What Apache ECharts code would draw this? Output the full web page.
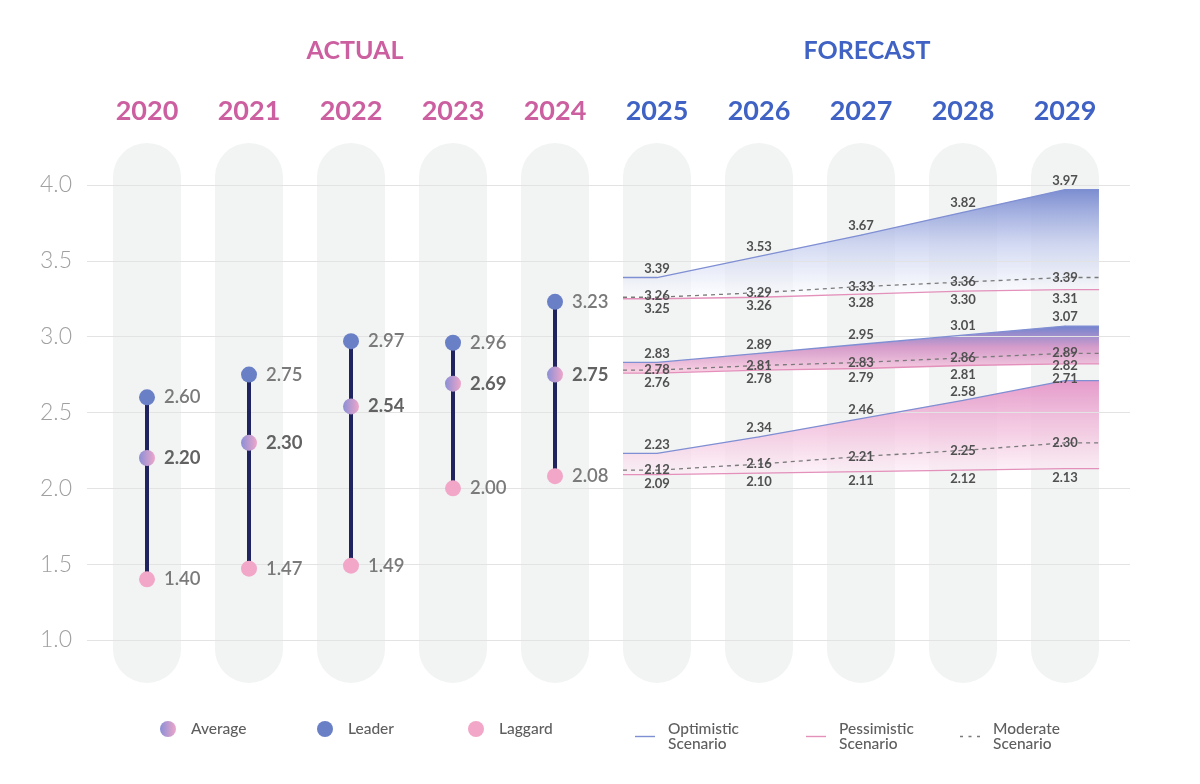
<!DOCTYPE html>
<html>
<head>
<meta charset="utf-8">
<script src="https://cdn.jsdelivr.net/npm/echarts@6/dist/echarts.min.js"></script>
<style>html,body{margin:0;padding:0;background:#fff}#c{width:1200px;height:784px}</style>
</head>
<body>
<div id="c"></div>
<script>
// ---- data ----
const years = ['2020','2021','2022','2023','2024','2025','2026','2027','2028','2029'];
const yTicks = [1.0, 1.5, 2.0, 2.5, 3.0, 3.5, 4.0];
// actual (2020-2024)
const leader  = [2.60, 2.75, 2.97, 2.96, 3.23];
const average = [2.20, 2.30, 2.54, 2.69, 2.75];
const laggard = [1.40, 1.47, 1.49, 2.00, 2.08];
// forecast (2025-2029)
const leaderOpt  = [3.39, 3.53, 3.67, 3.82, 3.97];
const leaderMod  = [3.26, 3.29, 3.33, 3.36, 3.39];
const leaderPes  = [3.25, 3.26, 3.28, 3.30, 3.31];
const avgOpt     = [2.83, 2.89, 2.95, 3.01, 3.07];
const avgMod     = [2.78, 2.81, 2.83, 2.86, 2.89];
const avgPes     = [2.76, 2.78, 2.79, 2.81, 2.82];
const lagOpt     = [2.23, 2.34, 2.46, 2.58, 2.71];
const lagMod     = [2.12, 2.16, 2.21, 2.25, 2.30];
const lagPes     = [2.09, 2.10, 2.11, 2.12, 2.13];

// ---- helpers ----
const NA = years.length - leaderOpt.length; // number of actual years
const EDGE = 0.333;
const G = echarts.graphic.LinearGradient;
const PINK = '#cc5fa0', BLUE = '#3f62c4';
const OPT = '#7f8fd3', PES = '#e390bb', MOD = '#7a7a7a';
const LABEL_H = 14, GAP = 13;
const POS_ORDER = { top: 0, inside: 1, bottom: 2 };

const lineSpecs = [
  { name: 'Optimistic Scenario', vals: leaderOpt, color: OPT, kind: 'opt' },
  { name: 'Optimistic Scenario', vals: avgOpt, color: OPT, kind: 'opt' },
  { name: 'Optimistic Scenario', vals: lagOpt, color: OPT, kind: 'opt' },
  { name: 'Moderate Scenario', vals: leaderMod, color: MOD, kind: 'mod' },
  { name: 'Moderate Scenario', vals: avgMod, color: MOD, kind: 'mod' },
  { name: 'Moderate Scenario', vals: lagMod, color: MOD, kind: 'mod' },
  { name: 'Pessimistic Scenario', vals: leaderPes, color: PES, kind: 'pes' },
  { name: 'Pessimistic Scenario', vals: avgPes, color: PES, kind: 'pes' },
  { name: 'Pessimistic Scenario', vals: lagPes, color: PES, kind: 'pes' }
];
lineSpecs.forEach(s => { s.pos = s.kind === 'mod' ? 'inside' : (s.kind === 'pes' ? 'bottom' : 'top'); s.off = s.vals.map(() => 0); });

function xsFor(vals) { return [NA - EDGE, ...vals.map((v, i) => NA + i), NA + vals.length - 1 + EDGE]; }
function ext(vals) { return [vals[0], ...vals, vals[vals.length - 1]]; }
function fcData(vals, off) {
  const xs = xsFor(vals), ys = ext(vals), n = xs.length;
  return xs.map((x, i) => {
    const edge = (i === 0 || i === n - 1);
    return edge ? { value: [x, ys[i]], symbol: 'none', label: { show: false } }
                : { value: [x, ys[i]], label: { show: true, offset: [0, off ? off[i - 1] : 0] } };
  });
}
function actual(arr) { return years.map((y, i) => i < arr.length ? arr[i] : '-'); }

function lineSeries(s) {
  return { name: s.name, type: 'line', xAxisIndex: 2, yAxisIndex: 1, data: fcData(s.vals, s.off),
    symbol: 'circle', symbolSize: 1, showSymbol: true, smooth: false, z: 4,
    lineStyle: { color: s.color, width: 1.3, type: s.kind === 'mod' ? [4, 4] : 'solid' },
    itemStyle: { color: s.color }, emphasis: { disabled: true },
    label: { show: false, position: s.pos, distance: 2, color: '#505050', fontSize: 13, fontWeight: 'bold',
      fontFamily: 'Lato, sans-serif', formatter: p => p.value[1].toFixed(2) } };
}
function bandSeries(top, bot, stops) {
  const xs = xsFor(top), tt = ext(top), bb = ext(bot);
  const data = xs.map((x, i) => [x, tt[i], bb[i]]);
  return { type: 'custom', xAxisIndex: 2, yAxisIndex: 1, z: 2, silent: true, clip: false,
    data, encode: { x: 0, y: [1, 2] },
    renderItem: (params, api) => {
      if (params.dataIndex !== 0) return null;
      const up = data.map(d => api.coord([d[0], d[1]]));
      const dn = data.map(d => api.coord([d[0], d[2]])).reverse();
      const yT = Math.min(...up.map(p => p[1]));
      const yB = Math.max(...dn.map(p => p[1]));
      return { type: 'polygon', shape: { points: up.concat(dn) },
        style: { fill: new G(0, yT, 0, yB, stops, true) } };
    } };
}

const avgGrad = new G(0, 0, 1, 0, [{ offset: 0, color: '#8a8fd6' }, { offset: 1, color: '#eea6ca' }]);
const dotLabel = (color, weight) => ({ show: true, position: 'right', distance: 9, color, fontSize: 18.5,
  fontWeight: weight, fontFamily: 'Lato, sans-serif', formatter: p => p.value.toFixed(2) });

function buildOption() {
  return {
    animation: false,
    backgroundColor: '#fff',
    title: [
      { text: 'ACTUAL', left: 350, top: 33, textAlign: 'center',
        textStyle: { color: PINK, fontSize: 25, fontWeight: 'bold', fontFamily: 'Lato, sans-serif' } },
      { text: 'FORECAST', left: 862, top: 33, textAlign: 'center',
        textStyle: { color: BLUE, fontSize: 25, fontWeight: 'bold', fontFamily: 'Lato, sans-serif' } }
    ],
    legend: [
      { left: 160, data: [{ name: 'Average', icon: 'circle' }], itemWidth: 16, itemHeight: 16 },
      { left: 317, data: [{ name: 'Leader', icon: 'circle' }], itemWidth: 16, itemHeight: 16 },
      { left: 468, data: [{ name: 'Laggard', icon: 'circle' }], itemWidth: 16, itemHeight: 16 },
      { left: 635, data: [{ name: 'Optimistic Scenario', icon: 'path://M0,0h20v1.4h-20z' }], itemWidth: 20, itemHeight: 14 },
      { left: 806, data: [{ name: 'Pessimistic Scenario', icon: 'path://M0,0h20v1.4h-20z' }], itemWidth: 20, itemHeight: 14 },
      { left: 960, data: [{ name: 'Moderate Scenario', icon: 'path://M0,0h3v1.4h-3zM8.5,0h3v1.4h-3zM17,0h3v1.4h-3z' }], itemWidth: 20, itemHeight: 14 }
    ].map(l => Object.assign({
      top: 721, height: 34, padding: 0, selectedMode: false, orient: 'horizontal',
      formatter: n => n.replace(' ', '\n'),
      textStyle: { color: '#5e5e5e', fontSize: 15.5, lineHeight: 15, fontWeight: 500, fontFamily: 'Lato, sans-serif',
        padding: [0, 0, 0, l.itemWidth === 16 ? 10 : 8] }
    }, l)),
    grid: [
      { left: 87, right: 70, top: 185, bottom: 144 },
      { left: 96, right: 84, top: 185, bottom: 144 }
    ],
    xAxis: [
      { gridIndex: 0, type: 'value', min: 0, max: 1, show: false },
      { gridIndex: 1, type: 'category', data: years, position: 'top',
        axisLine: { show: false }, axisTick: { show: false },
        axisLabel: { margin: 60, interval: 0,
          formatter: (v, i) => (i < NA ? '{a|' : '{f|') + v + '}',
          rich: {
            a: { color: PINK, fontSize: 27, fontWeight: 'bold', fontFamily: 'Lato, sans-serif' },
            f: { color: BLUE, fontSize: 27, fontWeight: 'bold', fontFamily: 'Lato, sans-serif' }
          } } },
      { gridIndex: 1, type: 'value', min: -0.5, max: years.length - 0.5, show: false }
    ],
    yAxis: [
      { gridIndex: 0, type: 'value', min: yTicks[0], max: yTicks[yTicks.length - 1], interval: 0.5, z: 3,
        axisLine: { show: false }, axisTick: { show: false },
        axisLabel: { margin: 15, color: '#a0a0a0', fontSize: 23, fontWeight: 300, fontFamily: 'Lato, sans-serif',
          formatter: v => v.toFixed(1) },
        splitLine: { lineStyle: { color: '#e3e3e3', width: 1.2 } } },
      { gridIndex: 1, type: 'value', min: yTicks[0], max: yTicks[yTicks.length - 1], interval: 0.5, show: false }
    ],
    series: [
      // background pills
      { type: 'custom', xAxisIndex: 1, yAxisIndex: 1, z: 1, silent: true, clip: false,
        data: years.map((y, i) => [i, 1]), encode: { x: 0, y: 1 },
        renderItem: (params, api) => {
          const t = api.coord([api.value(0), 4.277]);
          const b = api.coord([api.value(0), 0.717]);
          const w = api.size([1, 0])[0] * 0.667;
          return { type: 'rect', shape: { x: t[0] - w / 2, y: t[1], width: w, height: b[1] - t[1], r: w / 2 },
            style: { fill: '#f2f3f3' } };
        } },
      // bands
      bandSeries(leaderOpt, leaderPes, [
        { offset: 0, color: 'rgba(118,136,207,0.95)' }, { offset: 0.5, color: 'rgba(195,204,238,0.75)' },
        { offset: 1, color: 'rgba(255,255,255,0.6)' }]),
      bandSeries(avgOpt, avgPes, [
        { offset: 0, color: '#7283cf' }, { offset: 0.45, color: '#d59cca' }, { offset: 1, color: '#fbd3e5' }]),
      bandSeries(lagOpt, lagPes, [
        { offset: 0, color: 'rgba(228,150,200,0.95)' }, { offset: 0.6, color: 'rgba(244,200,225,0.8)' },
        { offset: 1, color: 'rgba(252,238,246,0.7)' }]),
      // scenario lines
      ...lineSpecs.map(lineSeries),
      // actual range lines
      { type: 'custom', xAxisIndex: 1, yAxisIndex: 1, z: 5, silent: true,
        data: leader.map((v, i) => [i, laggard[i], v]), encode: { x: 0, y: [1, 2] },
        renderItem: (params, api) => {
          const p1 = api.coord([api.value(0), api.value(1)]);
          const p2 = api.coord([api.value(0), api.value(2)]);
          return { type: 'line', shape: { x1: p1[0], y1: p1[1], x2: p2[0], y2: p2[1] },
            style: { stroke: '#1f2461', lineWidth: 4 } };
        } },
      // actual dots
      { name: 'Leader', type: 'scatter', xAxisIndex: 1, yAxisIndex: 1, z: 6, symbolSize: 16,
        data: actual(leader), itemStyle: { color: '#6a80c6', opacity: 1 }, label: dotLabel('#7a7a7a', 600) },
      { name: 'Average', type: 'scatter', xAxisIndex: 1, yAxisIndex: 1, z: 6, symbolSize: 16,
        data: actual(average), itemStyle: { color: avgGrad, opacity: 1 }, label: dotLabel('#626262', 'bold') },
      { name: 'Laggard', type: 'scatter', xAxisIndex: 1, yAxisIndex: 1, z: 6, symbolSize: 16,
        data: actual(laggard), itemStyle: { color: '#f2a7c8', opacity: 1 }, label: dotLabel('#7a7a7a', 600) }
    ]
  };
}

const chart = echarts.init(document.getElementById('c'));
chart.setOption(buildOption());

// resolve overlapping forecast labels per year column, keeping value order
const firstLine = 4;
const cols = [];
lineSpecs.forEach((s, si) => s.vals.forEach((v, j) => {
  const py = chart.convertToPixel({ seriesIndex: firstLine + si }, [NA + j, v])[1];
  const y0 = s.pos === 'top' ? py - 2 - LABEL_H / 2 : (s.pos === 'bottom' ? py + 2 + LABEL_H / 2 : py);
  (cols[j] = cols[j] || []).push({ s, j, v, y0, y: y0 });
}));
cols.forEach(col => {
  col.sort((a, b) => (b.v - a.v) || (POS_ORDER[a.s.pos] - POS_ORDER[b.s.pos]));
  for (let it = 0; it < 40; it++) {
    for (let k = 1; k < col.length; k++) {
      const d = col[k].y - col[k - 1].y;
      if (d < GAP) { const sh = (GAP - d) / 2; col[k - 1].y -= sh; col[k].y += sh; }
    }
  }
  col.forEach(o => { o.s.off[o.j] = o.y - o.y0; });
});
chart.setOption(buildOption(), true);
</script>
</body>
</html>
